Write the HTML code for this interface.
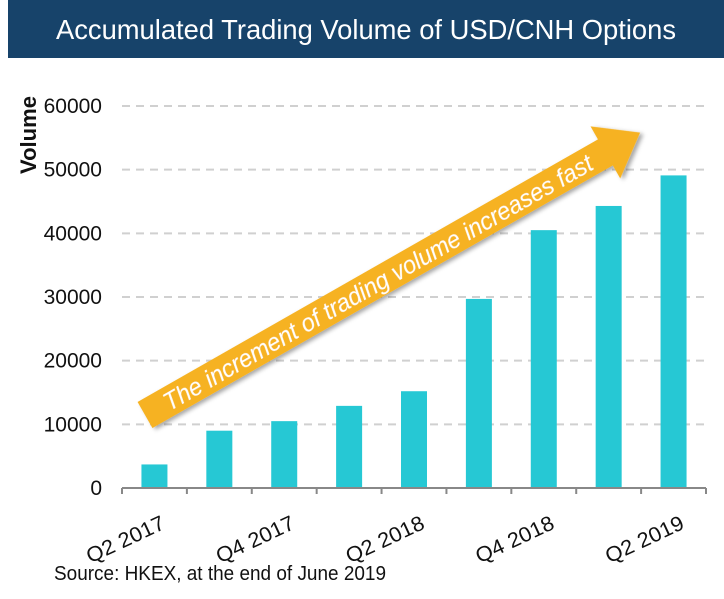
<!DOCTYPE html>
<html><head><meta charset="utf-8"><style>
body{margin:0;width:724px;height:594px;background:#fff;overflow:hidden;font-family:"Liberation Sans",sans-serif}
</style></head><body>
<svg width="724" height="594" xmlns="http://www.w3.org/2000/svg">
<defs><filter id="sh" x="-10%" y="-50%" width="120%" height="200%"><feDropShadow dx="2" dy="3" stdDeviation="2" flood-color="#000" flood-opacity="0.35"/></filter></defs>
<rect x="8" y="0" width="716" height="58" fill="#17436a"/>
<text x="366" y="39" text-anchor="middle" font-size="28" fill="#fff" textLength="620" lengthAdjust="spacingAndGlyphs">Accumulated Trading Volume of USD/CNH Options</text>
<text transform="translate(36,135) rotate(-90)" text-anchor="middle" font-size="22" font-weight="bold" fill="#111" textLength="78" lengthAdjust="spacingAndGlyphs">Volume</text>
<g id="grid"></g><g id="bars"></g><g id="axis"></g>
<g transform="translate(145,415) rotate(-29.7)" filter="url(#sh)">
<polygon points="0,-15 530,-15 530,-30 570,0 530,30 530,15 0,15" fill="#f6b223"/>
<text x="268" y="9" text-anchor="middle" font-size="25" font-style="italic" fill="#fff" textLength="490" lengthAdjust="spacingAndGlyphs">The increment of trading volume increases fast</text>
</g>
<text x="54" y="580" font-size="20" fill="#111" textLength="332" lengthAdjust="spacingAndGlyphs">Source: HKEX, at the end of June 2019</text>
</svg>
<script>
const categories=["Q2 2017","Q3 2017","Q4 2017","Q1 2018","Q2 2018","Q3 2018","Q4 2018","Q1 2019","Q2 2019"];
const volumes=[3700,9000,10500,12900,15200,29700,40500,44300,49100];
const yTicks=[0,10000,20000,30000,40000,50000,60000];
const NS="http://www.w3.org/2000/svg";
const x0=122,x1=706,y0=488,yTop=106,yMax=60000;
const step=(x1-x0)/categories.length;
const yS=v=>y0-(v/yMax)*(y0-yTop);
function mk(t,a,p){const e=document.createElementNS(NS,t);for(const k in a)e.setAttribute(k,a[k]);p.appendChild(e);return e;}
const g=document.getElementById('grid'),b=document.getElementById('bars'),ax=document.getElementById('axis');
yTicks.forEach(v=>{
 if(v>0){const l=mk('line',{x1:x0,x2:x1,y1:yS(v),y2:yS(v),stroke:'#d0d0d0','stroke-width':2,'stroke-dasharray':'8,6'},g);
 
 }
 const t=mk('text',{x:102,y:yS(v)+7,'text-anchor':'end','font-size':21,fill:'#111'},g);t.textContent=v;
 
 
});
volumes.forEach((v,i)=>{
 const cx=x0+step*(i+0.5);
 const r=mk('rect',{x:cx-13,y:yS(v),width:26,height:y0-yS(v),fill:'#26c8d4'},b);
 
 
 if(i%2===0){const t=mk('text',{transform:`translate(${cx+12},${y0+40}) rotate(-25)`,'text-anchor':'end','font-size':21,fill:'#111',textLength:84,lengthAdjust:'spacingAndGlyphs'},ax);t.textContent=categories[i];
 
 }
});
const al=mk('line',{x1:x0,x2:x1,y1:y0,y2:y0,stroke:'#888','stroke-width':2},ax);


for(let i=0;i<=categories.length;i++){const tk=mk('line',{x1:x0+step*i,x2:x0+step*i,y1:y0,y2:y0+6,stroke:'#888','stroke-width':2},ax);
 
 }
</script>
</body></html>
